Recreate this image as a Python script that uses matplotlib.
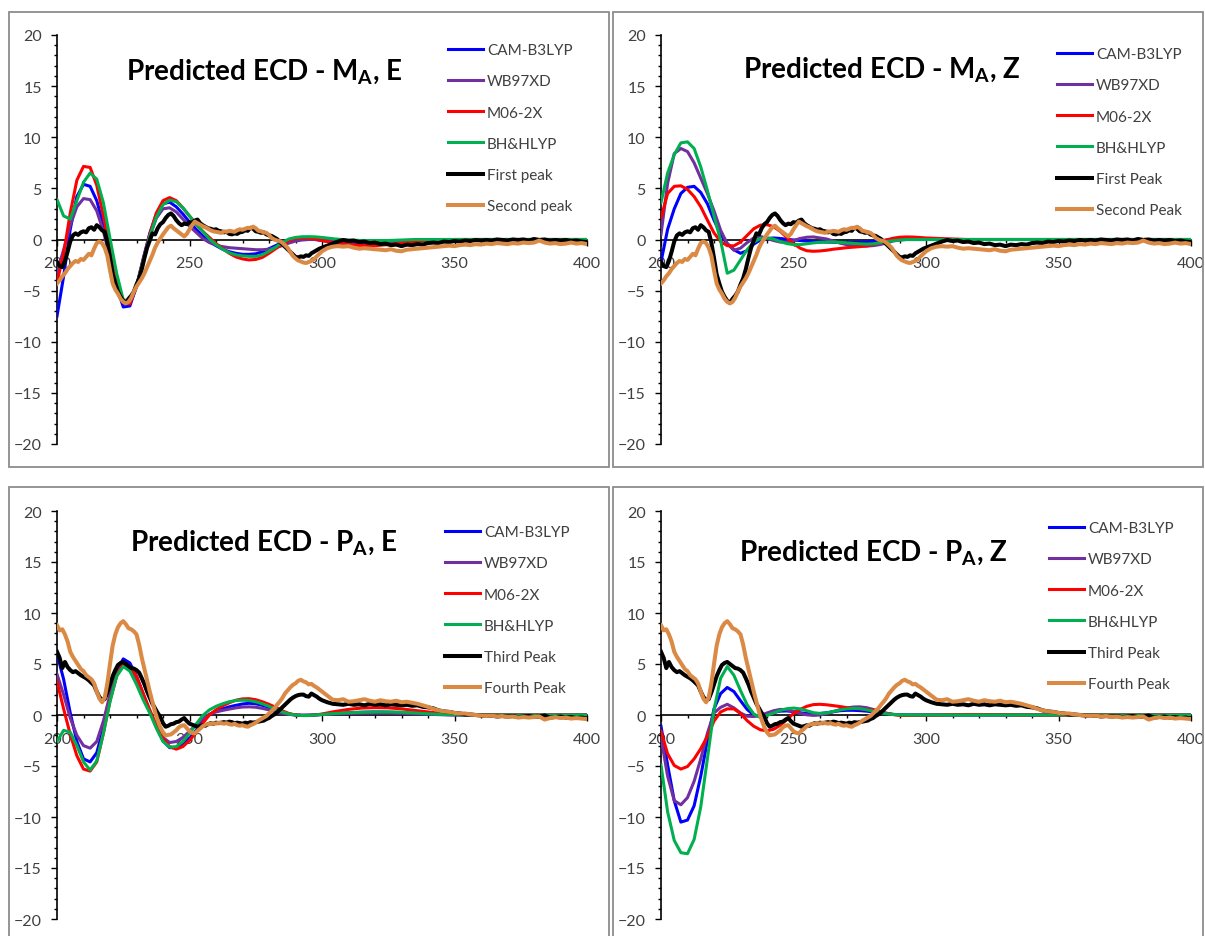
import matplotlib.pyplot as plt
from matplotlib.patches import Rectangle
from matplotlib.ticker import MultipleLocator

plt.rcParams['font.family'] = ['Lato', 'DejaVu Sans']

W, H = 1205, 937

# wavelength grids (nm)
wl_calc = [200, 202.5, 205, 207.5, 210, 212.5, 215, 217.5, 220, 222.5,
           225, 227.5, 230, 232.5, 235, 237.5, 240, 242.5, 245, 247.5,
           250, 252.5, 255, 257.5, 260, 262.5, 265, 267.5, 270, 272.5,
           275, 277.5, 280, 282.5, 285, 287.5, 290, 292.5, 295, 297.5,
           300,
           305, 310, 315, 320, 325, 330, 335, 340, 345, 350,
           355, 360, 365, 370, 375, 380, 385, 390, 395, 400]
wl_exp = list(range(200, 301)) + list(range(302, 401, 2))

methods = ['CAM-B3LYP', 'WB97XD', 'M06-2X', 'BH&HLYP']

# --- M_A, E ---
mae_cam = [-7.5, -3.6, 1.0, 4.2, 5.4, 5.2, 3.8, 1.4, -1.6, -4.6,
           -6.6, -6.5, -4.6, -1.9, 0.6, 2.5, 3.5, 3.65, 3.2, 2.5,
           1.7, 1.0, 0.35, -0.2, -0.6, -0.95, -1.2, -1.35, -1.45, -1.45,
           -1.4, -1.2, -0.9, -0.6, -0.3, -0.1, 0.0, 0.05, 0.05, 0.0,
           -0.1,
           -0.3, -0.45, -0.5, -0.5, -0.4, -0.3, -0.15, -0.08, -0.03, 0.0,
           0, 0, 0, 0, 0, 0, 0, 0, 0, 0]
mae_wb = [-3.2, -1.0, 1.4, 3.2, 4.0, 3.9, 2.8, 0.8, -1.8, -4.4,
          -6.2, -6.2, -4.6, -2.1, 0.3, 2.1, 3.0, 3.1, 2.7, 2.0,
          1.3, 0.7, 0.1, -0.3, -0.55, -0.7, -0.8, -0.85, -0.9, -0.95,
          -1.0, -1.0, -0.95, -0.8, -0.6, -0.35, -0.15, -0.05, 0.0, 0.0,
          -0.05,
          -0.15, -0.25, -0.3, -0.3, -0.25, -0.15, -0.1, -0.05, 0.0, 0.0,
          0, 0, 0, 0, 0, 0, 0, 0, 0, 0]
mae_m06 = [-4.2, -1.4, 2.6, 5.8, 7.15, 7.05, 5.3, 2.3, -0.9, -3.9,
           -6.2, -6.3, -4.6, -2.0, 0.5, 2.6, 3.8, 4.1, 3.8, 3.1,
           2.3, 1.5, 0.8, 0.2, -0.4, -0.9, -1.35, -1.7, -1.9, -2.0,
           -1.95, -1.75, -1.35, -0.9, -0.45, -0.1, 0.1, 0.15, 0.15, 0.05,
           -0.1,
           -0.35, -0.5, -0.6, -0.6, -0.5, -0.35, -0.2, -0.1, -0.05, 0.0,
           0, 0, 0, 0, 0, 0, 0, 0, 0, 0]
mae_bh = [3.9, 2.3, 2.0, 3.8, 5.6, 6.5, 5.9, 3.6, 0.1, -3.3,
          -5.9, -6.0, -4.6, -2.1, 0.3, 2.2, 3.4, 3.85, 3.7, 3.1,
          2.3, 1.5, 0.8, 0.05, -0.5, -0.95, -1.3, -1.5, -1.6, -1.65,
          -1.65, -1.5, -1.15, -0.75, -0.3, 0.05, 0.2, 0.27, 0.28, 0.26,
          0.2,
          0.05, -0.05, -0.1, -0.1, -0.1, -0.05, 0.0, 0.0, 0.0, 0.0,
          0, 0, 0, 0, 0, 0, 0, 0, 0, 0]

# --- M_A, Z ---
maz_cam = [-2.2, 1.0, 3.0, 4.5, 5.1, 5.2, 4.6, 3.5, 1.9, 0.5,
           -0.4, -1.0, -1.35, -1.1, -0.45, -0.05, 0.1, 0.15, 0.1, 0.02,
           -0.05, -0.1, -0.15, -0.2, -0.22, -0.25, -0.27, -0.3, -0.3, -0.3,
           -0.28, -0.25, -0.2, -0.12, -0.06, -0.02, 0.0, 0.0, 0.0, 0.0,
           0.0,
           0, 0, 0, 0, 0, 0, 0, 0, 0, 0,
           0, 0, 0, 0, 0, 0, 0, 0, 0, 0]
maz_wb = [0.5, 5.5, 8.4, 8.9, 8.6, 7.5, 6.0, 4.5, 2.8, 0.9,
          -0.4, -1.05, -0.85, -0.3, 0.15, 0.3, 0.1, -0.1, -0.25, -0.25,
          -0.1, 0.1, 0.22, 0.25, 0.15, 0.05, -0.15, -0.35, -0.5, -0.58,
          -0.63, -0.65, -0.6, -0.5, -0.35, -0.15, -0.05, 0.0, 0.0, 0.0,
          0.0,
          0, 0, 0, 0, 0, 0, 0, 0, 0, 0,
          0, 0, 0, 0, 0, 0, 0, 0, 0, 0]
maz_m06 = [2.1, 4.5, 5.2, 5.25, 4.9, 4.2, 3.2, 1.9, 0.65, -0.2,
           -0.6, -0.62, -0.25, 0.4, 1.05, 1.4, 1.45, 1.25, 0.8, 0.2,
           -0.4, -0.85, -1.1, -1.15, -1.12, -1.05, -0.95, -0.88, -0.8, -0.75,
           -0.7, -0.63, -0.5, -0.3, -0.05, 0.12, 0.22, 0.25, 0.24, 0.2,
           0.15,
           0.1, 0.05, 0, 0, 0, 0, 0, 0, 0, 0,
           0, 0, 0, 0, 0, 0, 0, 0, 0, 0]
maz_bh = [3.6, 6.5, 8.3, 9.45, 9.55, 8.9, 7.1, 4.8, 2.3, -0.1,
          -3.3, -3.0, -2.0, -1.0, -0.25, 0.1, 0.15, 0.05, -0.2, -0.4,
          -0.5, -0.5, -0.42, -0.33, -0.27, -0.25, -0.25, -0.28, -0.33, -0.38,
          -0.42, -0.45, -0.42, -0.33, -0.22, -0.12, -0.05, 0.0, 0.0, 0.0,
          0.0,
          0, 0, 0, 0, 0, 0, 0, 0, 0, 0,
          0, 0, 0, 0, 0, 0, 0, 0, 0, 0]

# --- P_A, E ---
pae_cam = [6.0, 3.5, 0.2, -2.6, -4.3, -4.6, -3.7, -1.3, 1.7, 4.3,
           5.5, 5.1, 3.8, 2.1, 0.4, -1.2, -2.5, -3.2, -3.2, -2.8,
           -2.3, -1.5, -0.6, 0.05, 0.4, 0.6, 0.8, 0.95, 1.08, 1.15,
           1.1, 0.95, 0.75, 0.5, 0.28, 0.1, 0.0, -0.03, -0.03, 0.0,
           0.05,
           0.15, 0.22, 0.27, 0.3, 0.28, 0.24, 0.18, 0.1, 0.05, 0.02,
           0, 0, 0, 0, 0, 0, 0, 0, 0, 0]
pae_wb = [4.0, 2.0, -0.3, -2.0, -3.0, -3.25, -2.6, -0.6, 2.0, 4.1,
          4.9, 4.6, 3.5, 1.9, 0.3, -1.1, -2.2, -2.7, -2.6, -2.2,
          -1.6, -0.95, -0.35, 0.05, 0.3, 0.45, 0.58, 0.7, 0.78, 0.8,
          0.76, 0.65, 0.5, 0.32, 0.17, 0.06, 0.0, -0.02, 0.0, 0.02,
          0.05,
          0.1, 0.15, 0.18, 0.2, 0.19, 0.16, 0.12, 0.07, 0.03, 0.0,
          0, 0, 0, 0, 0, 0, 0, 0, 0, 0]
pae_m06 = [3.3, 0.6, -1.9, -4.0, -5.3, -5.5, -4.6, -1.8, 1.4, 3.8,
           5.0, 4.8, 3.8, 2.1, 0.5, -1.0, -2.3, -3.1, -3.35, -3.1,
           -2.5, -1.7, -0.8, 0.0, 0.5, 0.9, 1.2, 1.45, 1.58, 1.6,
           1.5, 1.3, 1.05, 0.75, 0.42, 0.15, 0.0, -0.05, -0.05, 0.0,
           0.1,
           0.35, 0.55, 0.68, 0.72, 0.7, 0.6, 0.45, 0.3, 0.15, 0.07,
           0.03, 0, 0, 0, 0, 0, 0, 0, 0, 0]
pae_bh = [-2.6, -1.5, -1.7, -3.0, -4.6, -5.4, -4.5, -1.8, 1.3, 3.8,
          4.75, 4.3, 3.0, 1.5, 0.2, -1.3, -2.6, -3.15, -3.1, -2.6,
          -1.8, -0.9, -0.05, 0.5, 0.85, 1.1, 1.3, 1.42, 1.45, 1.42,
          1.3, 1.1, 0.85, 0.55, 0.3, 0.1, 0.0, -0.05, -0.05, 0.0,
          0.05,
          0.15, 0.22, 0.27, 0.3, 0.3, 0.27, 0.2, 0.12, 0.06, 0.03,
          0, 0, 0, 0, 0, 0, 0, 0, 0, 0]

# --- P_A, Z ---
paz_cam = [-1.1, -4.9, -8.4, -10.5, -10.3, -8.9, -6.0, -2.5, 0.6, 2.1,
           2.7, 2.3, 1.4, 0.55, 0.0, -0.15, 0.0, 0.25, 0.38, 0.4,
           0.33, 0.22, 0.14, 0.12, 0.15, 0.22, 0.32, 0.42, 0.46, 0.46,
           0.43, 0.38, 0.3, 0.2, 0.11, 0.05, 0.02, 0.0, 0.0, 0.0,
           0.0,
           0, 0, 0, 0, 0, 0, 0, 0, 0, 0,
           0, 0, 0, 0, 0, 0, 0, 0, 0, 0]
paz_wb = [-2.2, -6.0, -8.4, -8.8, -8.1, -6.5, -4.3, -1.8, 0.2, 0.75,
          1.05, 0.7, 0.2, -0.12, -0.15, -0.05, 0.2, 0.42, 0.55, 0.5,
          0.35, 0.15, 0.02, -0.04, 0.0, 0.15, 0.33, 0.52, 0.68, 0.78,
          0.8, 0.72, 0.55, 0.36, 0.18, 0.07, 0.02, 0.0, 0.0, 0.0,
          0.0,
          0, 0, 0, 0, 0, 0, 0, 0, 0, 0,
          0, 0, 0, 0, 0, 0, 0, 0, 0, 0]
paz_m06 = [-1.6, -3.8, -4.95, -5.3, -5.05, -4.3, -3.3, -2.1, -0.6, 0.3,
           0.6, 0.6, 0.15, -0.55, -1.1, -1.45, -1.55, -1.4, -1.0, -0.45,
           0.15, 0.55, 0.85, 1.02, 1.05, 1.0, 0.92, 0.83, 0.73, 0.65,
           0.6, 0.55, 0.48, 0.33, 0.17, 0.05, -0.03, -0.05, -0.04, -0.03,
           -0.02,
           0.0, 0.03, 0.05, 0.05, 0.04, 0.03, 0, 0, 0, 0,
           0, 0, 0, 0, 0, 0, 0, 0, 0, 0]
paz_bh = [-4.9, -9.5, -12.3, -13.5, -13.6, -12.2, -9.0, -4.3, 0.5, 3.6,
          4.75, 3.9, 2.4, 1.0, 0.1, -0.25, -0.05, 0.2, 0.45, 0.62,
          0.68, 0.6, 0.42, 0.23, 0.15, 0.2, 0.35, 0.5, 0.6, 0.65,
          0.63, 0.52, 0.38, 0.24, 0.12, 0.05, 0.02, 0.0, 0.0, 0.0,
          0.0,
          0, 0, 0, 0, 0, 0, 0, 0, 0, 0,
          0, 0, 0, 0, 0, 0, 0, 0, 0, 0]

# --- measured spectra ---
peak1 = [-2.2, -2.6, -2.7, -2.1, -1.2, -0.2, 0.4, 0.6, 0.45, 0.7,
         0.8, 0.7, 1.1, 1.2, 0.95, 1.4, 1.2, 0.9, 0.75, -0.3,
         -1.8, -3.4, -4.3, -5.1, -5.6, -6.0, -6.2, -5.8, -5.5, -5.1,
         -4.4, -3.8, -2.9, -1.8, -0.8, -0.1, 0.6, 0.5, 1.1, 1.5,
         1.7, 2.1, 2.4, 2.55, 2.3, 1.9, 1.6, 1.4, 1.55, 1.5,
         1.7, 1.65, 1.85, 1.95, 1.6, 1.4, 1.25, 1.1, 1.05, 0.95,
         1.0, 0.85, 0.8, 0.7, 0.75, 0.55, 0.5, 0.6, 0.55, 0.7,
         0.75, 0.9, 0.85, 1.15, 1.05, 0.8, 0.75, 0.65, 0.7, 0.5,
         0.4, 0.35, 0.2, 0.05, -0.2, -0.45, -0.7, -0.95, -1.2, -1.45,
         -1.7, -1.75, -1.65, -1.7, -1.55, -1.6, -1.35, -1.2, -1.05, -0.9,
         -0.8,
         -0.6, -0.4, -0.2, -0.05, -0.15, -0.1, -0.25, -0.2, -0.35, -0.3,
         -0.45, -0.4, -0.55, -0.5, -0.65, -0.5, -0.55, -0.45, -0.5, -0.35,
         -0.3, -0.35, -0.2, -0.25, -0.15, -0.2, -0.1, -0.15, -0.05, -0.1,
         -0.05, -0.1, 0.0, -0.05, -0.1, 0.0, -0.05, 0.0, -0.1, 0.05,
         -0.05, 0.0, -0.1, -0.05, -0.1, -0.05, -0.15, -0.1, -0.2, -0.25]
peak2 = [-4.3, -4.0, -3.6, -3.3, -2.9, -2.6, -2.3, -2.1, -2.2, -1.9,
         -2.0, -1.7, -1.4, -1.55, -0.9, -0.35, -0.2, -0.35, -0.8, -1.6,
         -3.0, -4.3, -4.9, -5.3, -5.8, -6.1, -6.25, -6.1, -5.7, -5.1,
         -4.6, -4.2, -3.8, -3.3, -2.7, -2.1, -1.5, -0.8, -0.3, 0.1,
         0.5, 0.85, 1.2, 1.35, 1.1, 0.9, 0.7, 0.5, 0.3, 0.55,
         1.0, 1.4, 1.75, 1.6, 1.45, 1.3, 1.2, 1.05, 0.9, 0.8,
         0.75, 0.7, 0.65, 0.8, 0.75, 0.85, 0.8, 0.75, 0.9, 1.0,
         0.95, 1.05, 1.15, 1.1, 1.25, 1.1, 0.85, 0.8, 0.7, 0.65,
         0.45, 0.15, 0.0, -0.1, -0.15, -0.3, -0.55, -0.8, -1.2, -1.6,
         -1.85, -2.05, -2.15, -2.25, -2.3, -2.2, -2.1, -1.9, -1.65, -1.4,
         -1.15,
         -0.85, -0.7, -0.65, -0.7, -0.65, -0.8, -0.9, -0.85, -0.9, -0.95,
         -1.0, -1.05, -0.95, -1.1, -1.15, -1.0, -0.95, -0.9, -0.85, -0.8,
         -0.75, -0.7, -0.65, -0.6, -0.65, -0.55, -0.5, -0.55, -0.45, -0.5,
         -0.4, -0.45, -0.35, -0.4, -0.45, -0.35, -0.4, -0.3, -0.35, -0.3,
         -0.1, -0.3, -0.4, -0.35, -0.45, -0.4, -0.3, -0.4, -0.35, -0.45]
peak3 = [6.2, 5.6, 4.6, 5.2, 4.7, 4.4, 4.2, 4.3, 4.1, 3.9,
         3.75, 3.6, 3.4, 3.15, 2.9, 2.3, 1.75, 1.5, 1.55, 2.2,
         3.0, 3.8, 4.4, 4.9, 5.1, 5.2, 5.0, 4.8, 4.6, 4.55,
         4.4, 4.15, 3.6, 3.0, 2.3, 1.7, 1.1, 0.65, 0.2, -0.2,
         -0.8, -1.15, -1.05, -0.9, -0.85, -0.7, -0.65, -0.45, -0.3, -0.6,
         -0.85, -0.95, -1.05, -1.15, -1.1, -1.0, -1.05, -0.9, -0.8, -0.85,
         -0.75, -0.8, -0.75, -0.7, -0.75, -0.65, -0.7, -0.8, -0.75, -0.8,
         -0.85, -0.75, -0.8, -0.7, -0.75, -0.7, -0.65, -0.6, -0.55, -0.4,
         -0.3, -0.1, 0.05, 0.25, 0.5, 0.75, 1.0, 1.25, 1.5, 1.7,
         1.85, 1.95, 2.0, 2.0, 1.85, 1.8, 2.1, 1.95, 1.8, 1.6,
         1.45,
         1.25, 1.1, 1.05, 1.0, 1.1, 1.0, 1.05, 0.95, 1.1, 1.0,
         1.05, 0.95, 1.05, 1.0, 0.95, 1.0, 0.9, 0.95, 0.8, 0.75,
         0.65, 0.45, 0.35, 0.3, 0.2, 0.15, 0.05, 0.05, 0.0, -0.05,
         -0.1, -0.05, -0.15, -0.1, -0.15, -0.1, -0.2, -0.15, -0.1, -0.2,
         -0.15, -0.05, -0.25, -0.2, -0.15, -0.25, -0.2, -0.3, -0.25, -0.35]
peak4 = [8.8, 8.3, 8.4, 7.9, 7.2, 6.2, 5.7, 5.3, 4.9, 4.5,
         4.3, 3.9, 3.7, 3.5, 3.1, 2.3, 1.6, 1.25, 1.7, 3.1,
         5.0, 6.8, 7.9, 8.6, 9.0, 9.2, 8.9, 8.5, 8.4, 8.2,
         7.9, 6.9, 5.6, 4.5, 3.4, 2.3, 1.3, 0.3, -0.5, -1.2,
         -1.7, -2.0, -1.95, -1.9, -1.7, -1.5, -1.2, -1.05, -1.0, -1.3,
         -1.6, -1.75, -1.8, -1.55, -1.35, -1.1, -0.95, -0.9, -0.85, -0.8,
         -0.85, -0.75, -0.8, -0.85, -0.8, -0.9, -0.95, -0.85, -1.0, -1.05,
         -1.0, -1.1, -1.15, -1.0, -0.9, -0.75, -0.55, -0.4, -0.25, -0.1,
         0.15, 0.4, 0.65, 1.0, 1.3, 1.65, 2.1, 2.4, 2.7, 2.95,
         3.1, 3.35, 3.45, 3.3, 3.2, 3.0, 3.05, 2.85, 2.7, 2.5,
         2.3,
         1.9, 1.5, 1.45, 1.55, 1.3, 1.35, 1.45, 1.55, 1.4, 1.3,
         1.45, 1.35, 1.3, 1.4, 1.25, 1.3, 1.2, 1.1, 0.95, 0.8,
         0.6, 0.45, 0.35, 0.3, 0.2, 0.15, 0.15, 0.05, 0.0, -0.05,
         -0.1, -0.05, -0.15, -0.1, -0.2, -0.15, -0.25, -0.2, -0.25, -0.2,
         -0.15, -0.45, -0.3, -0.2, -0.3, -0.25, -0.35, -0.3, -0.35, -0.4]

calc_colors = ['#0000FF', '#7030A0', '#FF0000', '#00B050']
exp_colors = ['#000000', '#DA8A45']

# pixel layout: axes box (left, top, width, height), frame, title, legend anchor
panels = [
    dict(ax=(57, 36, 530, 409), frame=(9, 13, 600, 455),
         title=r'Predicted ECD - M$_\mathregular{A}$, E', title_xy=(264, 80),
         leg=(448, 44), calc=[mae_cam, mae_wb, mae_m06, mae_bh],
         exp=[peak1, peak2], exp_names=['First peak', 'Second peak']),
    dict(ax=(661, 36, 530, 409), frame=(613, 13, 590, 455),
         title=r'Predicted ECD - M$_\mathregular{A}$, Z', title_xy=(882, 78),
         leg=(1057, 48), calc=[maz_cam, maz_wb, maz_m06, maz_bh],
         exp=[peak1, peak2], exp_names=['First Peak', 'Second Peak']),
    dict(ax=(57, 512, 530, 408), frame=(9, 488, 600, 460),
         title=r'Predicted ECD - P$_\mathregular{A}$, E', title_xy=(264, 551),
         leg=(445, 526), calc=[pae_cam, pae_wb, pae_m06, pae_bh],
         exp=[peak3, peak4], exp_names=['Third Peak', 'Fourth Peak']),
    dict(ax=(661, 512, 530, 408), frame=(613, 488, 590, 460),
         title=r'Predicted ECD - P$_\mathregular{A}$, Z', title_xy=(873, 561),
         leg=(1049, 522), calc=[paz_cam, paz_wb, paz_m06, paz_bh],
         exp=[peak3, peak4], exp_names=['Third Peak', 'Fourth Peak']),
]

fig = plt.figure(figsize=(W / 100, H / 100), dpi=100)

for p in panels:
    fx, fy, fw, fh = p['frame']
    fig.add_artist(Rectangle((fx / W, 1 - (fy + fh) / H), fw / W, fh / H,
                             transform=fig.transFigure, fill=False,
                             edgecolor='#8C8C8C', linewidth=1.3))

    l, t, w, h = p['ax']
    ax = fig.add_axes([l / W, 1 - (t + h) / H, w / W, h / H])
    ax.patch.set_alpha(0)

    for ys, c, name in zip(p['calc'], calc_colors, methods):
        ax.plot(wl_calc, ys, color=c, lw=2.2, label=name,
                solid_joinstyle='round')
    for ys, c, name in zip(p['exp'], exp_colors, p['exp_names']):
        ax.plot(wl_exp, ys, color=c, lw=2.9, label=name,
                solid_joinstyle='round')

    ax.set_xlim(200, 400)
    ax.set_ylim(-20, 20)
    ax.xaxis.set_major_locator(MultipleLocator(50))
    ax.xaxis.set_minor_locator(MultipleLocator(10))
    ax.yaxis.set_major_locator(MultipleLocator(5))
    ax.yaxis.set_minor_locator(MultipleLocator(1))

    for s in ['top', 'right']:
        ax.spines[s].set_visible(False)
    ax.spines['bottom'].set_position(('data', 0))
    for s in ['left', 'bottom']:
        ax.spines[s].set_linewidth(1.2)
        ax.spines[s].set_zorder(1.8)

    ax.tick_params(which='major', direction='out', length=4, width=1,
                   labelsize=11.5, labelcolor='#404040')
    ax.tick_params(which='minor', direction='out', length=2.5, width=1)
    ax.tick_params(axis='y', which='major', pad=7)
    ax.tick_params(axis='x', which='major', pad=8)

    lx, ly = p['leg']
    ax.legend(loc='upper left', bbox_to_anchor=(lx / W, 1 - ly / H),
              bbox_transform=fig.transFigure, frameon=False, fontsize=11,
              labelspacing=1.13, handlelength=2.3, handletextpad=0.25,
              borderpad=0, borderaxespad=0, labelcolor='#404040')

    tx, ty = p['title_xy']
    fig.text(tx / W, 1 - ty / H, p['title'], ha='center', va='baseline',
             fontsize=20, fontweight='bold')

fig.savefig('out.png', dpi=100)
